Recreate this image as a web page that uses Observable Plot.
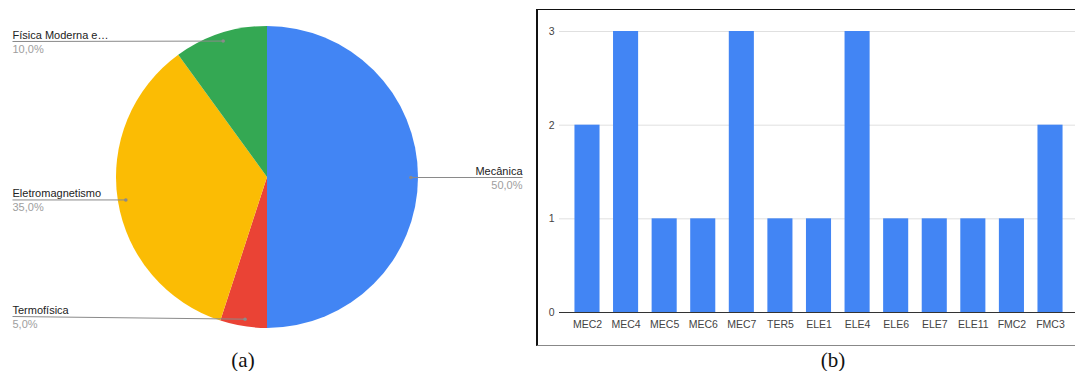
<!DOCTYPE html>
<html><head><meta charset="utf-8">
<script src="https://cdn.jsdelivr.net/npm/d3@7"></script>
<script src="https://cdn.jsdelivr.net/npm/@observablehq/plot@0.6"></script>
<style>
body{margin:0;background:#fff;width:1075px;height:371px;position:relative;overflow:hidden;font-family:Arial,"Liberation Sans",sans-serif}
#pie{position:absolute;left:0;top:0;width:536px;height:345px}
#bar{position:absolute;left:536px;top:9px;width:537px;height:335px;border-left:2px solid #111;border-top:1px solid #111;border-bottom:1px solid #888;}
.cap{position:absolute;top:350px;font-family:"Liberation Serif","Times New Roman",serif;font-size:21px;line-height:21px;transform:translateX(-50%);color:#111}
</style>
</head><body>
<div id="pie"></div>
<div id="bar"></div>
<div class="cap" style="left:243px">(a)</div>
<div class="cap" style="left:833px">(b)</div>
<script>
// ---- Pie data (a)
const pieLabels = ["Mecânica", "Termofísica", "Eletromagnetismo", "Física Moderna e…"];
const pieValues = [50, 5, 35, 10];
const pieColors = ["#4285F4", "#EA4335", "#FBBC04", "#34A853"];

// ---- Bar data (b)
const barCats = ["MEC2","MEC4","MEC5","MEC6","MEC7","TER5","ELE1","ELE4","ELE6","ELE7","ELE11","FMC2","FMC3"];
const barValues = [2, 3, 1, 1, 3, 1, 1, 3, 1, 1, 1, 1, 2];
const barTicks = [0, 1, 2, 3];

// ---------- Pie ----------
const CX = 267, CY = 177, R = 151;
const total = d3.sum(pieValues);
const arcs = d3.pie().sort(null)(pieValues);
const pieData = arcs.map((a, i) => {
  const mid = (a.startAngle + a.endAngle) / 2;
  const dx = CX + 0.95 * R * Math.sin(mid);
  const dy = CY - 0.95 * R * Math.cos(mid);
  const right = Math.sin(mid) >= 0;
  const ly = Math.max(41, Math.min(316, dy));
  return {
    label: pieLabels[i], color: pieColors[i], arc: a,
    pct: (pieValues[i] / total * 100).toFixed(1).replace(".", ",") + "%",
    dotX: dx, dotY: dy, lineX: right ? 522 : 12, lineY: ly, right
  };
});
const leftData = pieData.filter(d => !d.right);
const rightData = pieData.filter(d => d.right);

const slices = (index, scales) => {
  const g = d3.create("svg:g");
  const cx = scales.x(CX), cy = scales.y(CY), r = scales.x(CX + R) - scales.x(CX);
  const arcGen = d3.arc().innerRadius(0).outerRadius(r);
  g.selectAll("path").data(pieData).join("path")
    .attr("transform", `translate(${cx},${cy})`)
    .attr("d", d => arcGen(d.arc))
    .attr("fill", d => d.color);
  return g.node();
};

const labelMarks = (data, anchor) => [
  Plot.text(data, {x: "lineX", y: d => d.lineY - 6.5, text: "label", textAnchor: anchor, fill: "#222", fontSize: 11}),
  Plot.text(data, {x: "lineX", y: d => d.lineY + 7.5, text: "pct", textAnchor: anchor, fill: "#9e9e9e", fontSize: 11})
];

const pie = Plot.plot({
  width: 536, height: 345,
  marginTop: 0, marginRight: 0, marginBottom: 0, marginLeft: 0,
  x: {domain: [0, 536], range: [0, 536], axis: null},
  y: {domain: [0, 345], range: [0, 345], axis: null},
  style: {fontFamily: "Arial, 'Liberation Sans', sans-serif", background: "transparent"},
  marks: [
    slices,
    Plot.link(pieData, {x1: "lineX", y1: "lineY", x2: "dotX", y2: "dotY", stroke: "#8a8a8a", strokeWidth: 1}),
    Plot.dot(pieData, {x: "dotX", y: "dotY", r: 1.8, fill: "#8a8a8a"}),
    ...labelMarks(leftData, "start"),
    ...labelMarks(rightData, "end")
  ]
});
document.getElementById("pie").append(pie);

// ---------- Bars ----------
const barData = barCats.map((c, i) => ({cat: c, value: barValues[i]}));
const bar = Plot.plot({
  width: 537, height: 335,
  marginTop: 21, marginRight: 0, marginBottom: 33, marginLeft: 21,
  x: {type: "band", domain: barCats, range: [29.7, 531.3], paddingInner: 0.35, paddingOuter: 0.175, round: false},
  y: {domain: [0, 3]},
  style: {fontFamily: "Arial, 'Liberation Sans', sans-serif", fontSize: "10.5px", color: "#444", background: "transparent"},
  marks: [
    Plot.ruleY(barTicks.filter(t => t > 0), {stroke: "#e0e0e0"}),
    Plot.barY(barData, {x: "cat", y: "value", fill: "#4285F4"}),
    Plot.ruleY([0], {stroke: "#333"}),
    Plot.axisY({ticks: barTicks, tickSize: 0, tickPadding: 5, label: null, tickFormat: d3.format("d")}),
    Plot.axisX({tickSize: 0, tickPadding: 8, label: null})
  ]
});
document.getElementById("bar").append(bar);
</script>
</body></html>
